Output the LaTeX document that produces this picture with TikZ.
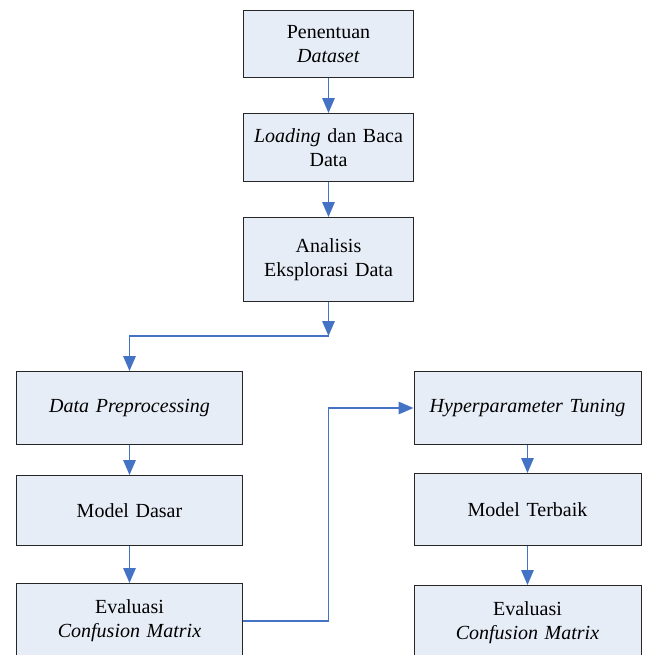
\documentclass[tikz,border=0pt]{standalone}
\usepackage{fontspec}
\setmainfont{Liberation Serif}
\usepackage{xcolor}
\usepackage{tikz}
\usetikzlibrary{positioning, arrows.meta, calc}
\definecolor{boxfill}{RGB}{231,237,247}
\definecolor{linkblue}{RGB}{68,114,196}

\begin{document}
\begin{tikzpicture}[
            x=0.6pt, y=-0.6pt,
            node distance=21pt,
            box/.style={rectangle, draw=black!85, line width=0.6pt, fill=boxfill, text width=92pt, align=center, minimum width=102.6pt, inner sep=0pt, font=\fontsize{12}{14.4}\selectfont},
            wide/.style={box, text width=130pt, minimum width=136.2pt},
            arrow/.style={-{Triangle[length=9pt, width=7.5pt]}, draw=linkblue, line width=0.9pt}
        ]
        \useasboundingbox (0,0) rectangle (645,655);

        \node[box, minimum height=40.2pt, anchor=north] (dataset) at (328.5,10) {Penentuan\\\textit{Dataset}};
        \node[box, minimum height=40.8pt, below=21pt of dataset] (loading) {\textit{Loading} dan Baca\\Data};
        \node[box, minimum height=50.4pt, below=21pt of loading] (eda) {Analisis\\Eksplorasi Data};

        \node[wide, minimum height=43.8pt, anchor=north] (prep) at (129.5,371) {\textit{Data Preprocessing}};
        \node[wide, minimum height=42pt, below=18pt of prep] (dasar) {Model Dasar};
        \node[wide, minimum height=45pt, below=22.2pt of dasar] (evaldasar) {Evaluasi\\\textit{Confusion Matrix}};

        \node[wide, minimum height=43.8pt, anchor=north] (tuning) at (527.5,371) {\textit{Hyperparameter Tuning}};
        \node[wide, minimum height=43.2pt, below=16.8pt of tuning] (terbaik) {Model Terbaik};
        \node[wide, minimum height=45pt, below=23.4pt of terbaik] (evalterbaik) {Evaluasi\\\textit{Confusion Matrix}};

        \coordinate (split) at ($(eda.south)+(0,34)$);
        \coordinate (turn) at (eda.south |- evaldasar.east);

        \draw[arrow] (dataset) -- (loading);
        \draw[arrow] (loading) -- (eda);
        \draw[arrow] (eda) -- (split);
        \draw[arrow] (split) -| (prep);
        \draw[arrow] (prep) -- (dasar);
        \draw[arrow] (dasar) -- (evaldasar);
        \draw[arrow] (evaldasar) -- (turn) |- (tuning);
        \draw[arrow] (tuning) -- (terbaik);
        \draw[arrow] (terbaik) -- (evalterbaik);
    \end{tikzpicture}
\end{document}
